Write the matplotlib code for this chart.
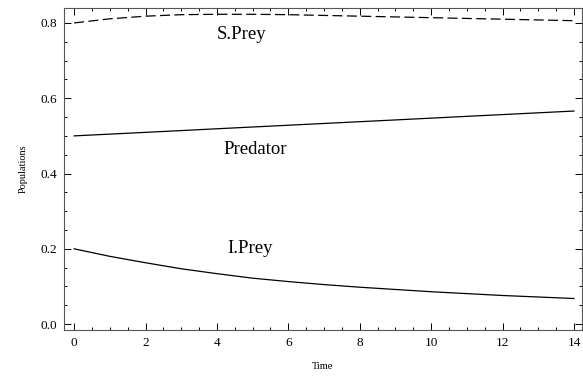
import matplotlib
matplotlib.use("Agg")
import matplotlib.pyplot as plt
from matplotlib.ticker import MultipleLocator

plt.rcParams["font.family"] = ["Liberation Serif", "DejaVu Serif"]

time = list(range(15))
s_prey = [0.800, 0.811, 0.818, 0.822, 0.823, 0.823, 0.822, 0.820,
          0.818, 0.816, 0.814, 0.812, 0.810, 0.808, 0.806]
predator = [0.500, 0.5047, 0.5094, 0.5141, 0.5189, 0.5236, 0.5283, 0.5330,
            0.5377, 0.5424, 0.5471, 0.5519, 0.5566, 0.5613, 0.566]
i_prey = [0.200, 0.180, 0.163, 0.147, 0.134, 0.122, 0.113, 0.105,
          0.098, 0.092, 0.086, 0.081, 0.076, 0.072, 0.068]

labels = ["S.Prey", "Predator", "I.Prey"]
label_x = [4.68, 5.07, 4.93]
label_y = [0.77, 0.463, 0.20]

fig = plt.figure(figsize=(5.83, 3.76), dpi=100)
ax = fig.add_axes([0.110, 0.122, 0.888, 0.857])

ax.plot(time, s_prey, color="black", lw=0.9, dashes=(8, 3.5))
ax.plot(time, predator, color="black", lw=0.9)
ax.plot(time, i_prey, color="black", lw=0.9)

for txt, x, y in zip(labels, label_x, label_y):
    ax.text(x, y, txt, fontsize=13.5, ha="center", va="center")

ax.set_xlim(-0.28, 14.22)
ax.set_ylim(-0.016, 0.84)
ax.xaxis.set_major_locator(MultipleLocator(2))
ax.xaxis.set_minor_locator(MultipleLocator(0.5))
ax.yaxis.set_major_locator(MultipleLocator(0.2))
ax.yaxis.set_minor_locator(MultipleLocator(0.05))
ax.xaxis.set_major_formatter(plt.FuncFormatter(lambda v, p: "%d" % v))
ax.yaxis.set_major_formatter(plt.FuncFormatter(lambda v, p: "%.1f" % v))

ax.tick_params(which="both", direction="in", top=True, right=True,
               labelsize=9.5, width=0.7, color="black", pad=5)
ax.tick_params(which="major", length=5)
ax.tick_params(which="minor", length=2.5)
for sp in ax.spines.values():
    sp.set_color("#555555")
    sp.set_linewidth(0.8)

ax.set_xlabel("Time", fontsize=7.5, labelpad=9)
ax.set_ylabel("Populations", fontsize=7.5, labelpad=9)

fig.savefig("out.png", dpi=100)
